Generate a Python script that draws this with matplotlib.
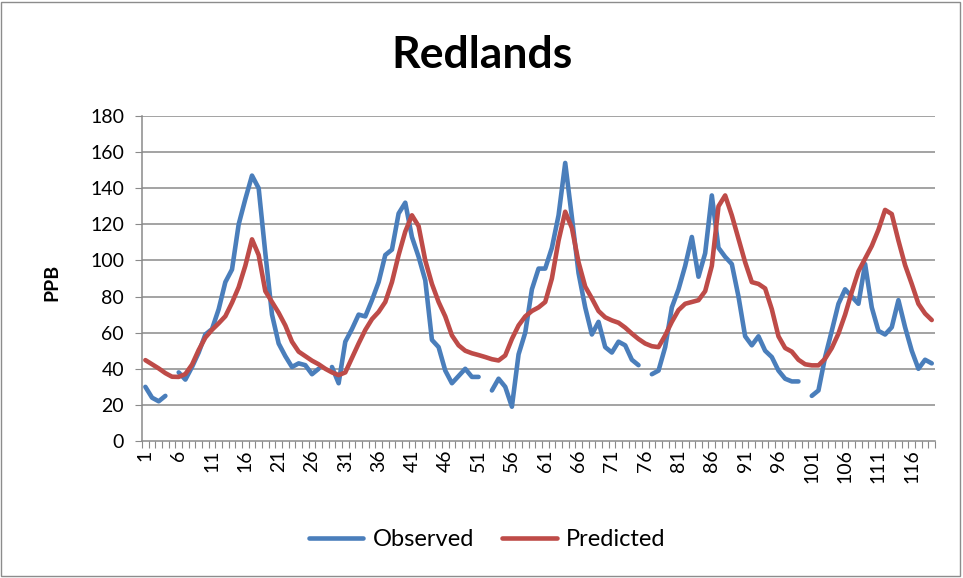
import numpy as np
import matplotlib
matplotlib.use('Agg')
import matplotlib.pyplot as plt
from matplotlib.patches import Rectangle

plt.rcParams['font.family'] = ['Lato', 'DejaVu Sans']

# monthly ozone at Redlands, PPB (None = no observation)
observed = [30, 24, 22, 25, None, 38, 34, 41, 49, 59,
            62, 73, 88, 95, 120, 134, 147, 140, 104, 70,
            54, 47, 41, 43, 42, 37, 40, None, 41, 32,
            55, 62, 70, 69, 78, 88, 103, 106, 126, 132,
            113, 102, 89, 56, 52, 39, 32, 36, 40, 35.5,
            35.5, None, 28, 34.5, 30, 19, 48, 60, 84, 95.5,
            95.5, 107, 125, 154, 124, 93, 74, 59, 66, 52,
            49, 55, 53, 45, 42, None, 37, 39, 52, 74,
            84, 97, 113, 91, 104, 136, 107, 102, 98, 80,
            58, 53, 58, 50, 46.5, 39, 34.5, 33, 33, None,
            25, 28, 46.5, 61, 76, 84, 80, 76, 98, 74,
            61, 59, 63, 78, 63, 50, 40, 45, 43]
predicted = [44.8, 42.5, 40.2, 37.6, 35.6, 35.5, 37.1, 42.3, 50.4, 57.3,
             61.6, 65.2, 69.1, 76.6, 85.2, 97.1, 111.7, 103, 83, 77,
             71, 64, 55, 49.5, 47, 44.5, 42.5, 40, 38, 36.5,
             38, 46, 54, 61.5, 67.5, 71.5, 77, 88, 103, 116,
             125, 119, 100, 87, 77, 69, 58.5, 53, 50, 48.6,
             47.6, 46.5, 45.3, 44.6, 47.4, 56.5, 64, 69, 72, 74,
             77, 90, 111, 127, 118, 99, 85.5, 79, 72, 68.5,
             66.8, 65.5, 62.8, 59.5, 56.5, 54, 52.5, 52, 58.5, 66,
             72.5, 76, 77, 78, 83, 97, 130, 136, 125, 112,
             99, 88, 87, 84.5, 73, 58, 51.5, 49.5, 45, 42.5,
             41.9, 41.9, 45.6, 51.5, 59.5, 70, 82.5, 94, 101, 108,
             117, 128, 125.7, 111, 97.4, 87, 76, 70.6, 67]
yticks = [0, 20, 40, 60, 80, 100, 120, 140, 160, 180]

x = np.arange(1, len(observed) + 1)
obs = np.array([np.nan if v is None else v for v in observed], dtype=float)
pred = np.array(predicted, dtype=float)

fig = plt.figure(figsize=(9.63, 5.78), dpi=100)
ax = fig.add_axes([0.1475, 0.237, 0.8235, 0.5623])

grid_c = '#8a8a8a'
for y in yticks[1:]:
    ax.axhline(y, color=grid_c, lw=1.1, zorder=1)

ax.plot(x, obs, color='#4a7ebb', lw=3.3, solid_capstyle='round',
        solid_joinstyle='round', label='Observed', zorder=3)
ax.plot(x, pred, color='#be4b48', lw=3.3, solid_capstyle='round',
        solid_joinstyle='round', label='Predicted', zorder=3)

ax.set_xlim(0.5, len(x) + 0.5)
ax.set_ylim(0, 180)
for s in ['top', 'right']:
    ax.spines[s].set_visible(False)
for s in ['left', 'bottom']:
    ax.spines[s].set_color(grid_c)
    ax.spines[s].set_linewidth(1.1)

ax.set_yticks(yticks)
ax.tick_params(axis='y', direction='out', length=5, color=grid_c,
               labelsize=14, pad=8)

# tick marks between categories, labels every 5th category
ax.set_xticks(np.arange(0.5, len(x) + 1, 1))
ax.tick_params(axis='x', which='major', direction='out', length=5,
               color=grid_c, labelbottom=False)
lab = x[::5]
ax.set_xticks(lab, minor=True)
ax.set_xticklabels([str(v) for v in lab], minor=True, rotation=90)
ax.tick_params(axis='x', which='minor', length=0, labelsize=14, pad=6)

fig.text(0.5, 0.905, 'Redlands', ha='center', va='center',
         fontsize=32, fontweight='bold')
fig.text(0.054, 0.512, 'PPB', ha='center', va='center', rotation=90,
         fontsize=14, fontweight='bold')

fig.legend(loc='center', bbox_to_anchor=(0.506, 0.066), ncol=2,
           frameon=False, fontsize=17, handlelength=2.3,
           columnspacing=1.2, handletextpad=0.4)

fig.patches.append(Rectangle((0.001, 0.003), 0.996, 0.994,
                             transform=fig.transFigure, fill=False,
                             ec='#8c8c8c', lw=1))

plt.savefig('out.png', dpi=100)
